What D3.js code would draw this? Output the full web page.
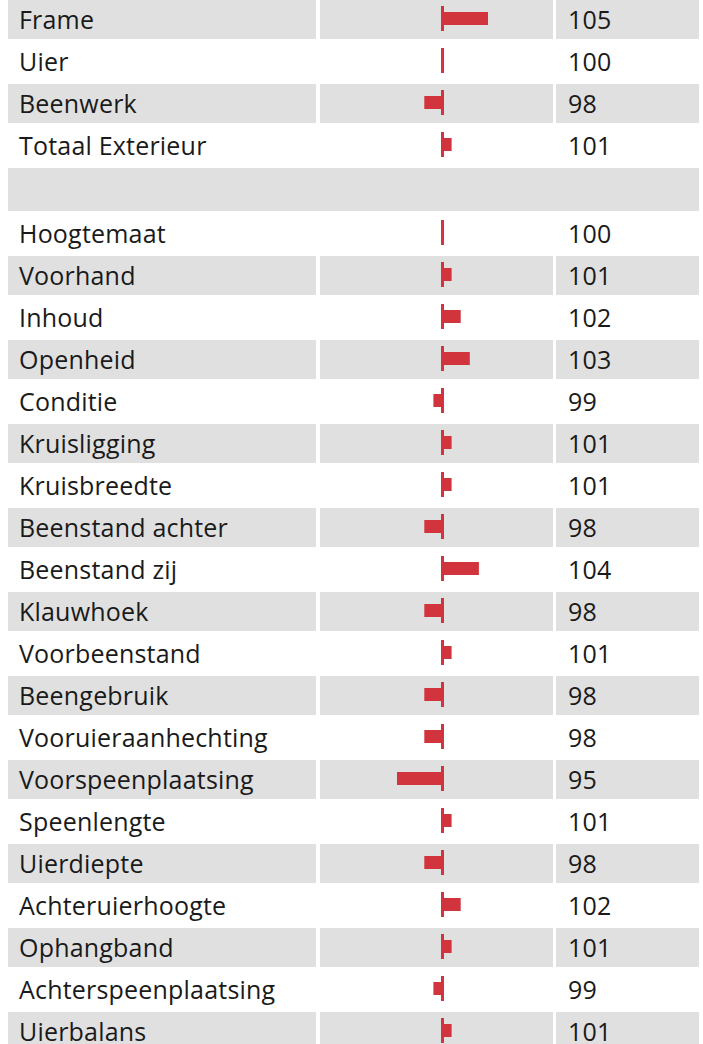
<!DOCTYPE html>
<html>
<head>
<meta charset="utf-8">
<script src="https://cdn.jsdelivr.net/npm/d3@7"></script>
<style>
  html, body { margin: 0; padding: 0; background: #ffffff; }
  svg { display: block; }
  text { font-family: "Open Sans", "Noto Sans", sans-serif; fill: #1a1a1a; }
</style>
</head>
<body>
<svg id="chart" width="703" height="1044"></svg>
<script>
// Exterior traits and their breeding values (100 = average).
// An empty label marks the blank separator row between summary and detail traits.
const traits = [
  "Frame", "Uier", "Beenwerk", "Totaal Exterieur", "",
  "Hoogtemaat", "Voorhand", "Inhoud", "Openheid", "Conditie",
  "Kruisligging", "Kruisbreedte", "Beenstand achter", "Beenstand zij", "Klauwhoek",
  "Voorbeenstand", "Beengebruik", "Vooruieraanhechting", "Voorspeenplaatsing", "Speenlengte",
  "Uierdiepte", "Achteruierhoogte", "Ophangband", "Achterspeenplaatsing", "Uierbalans"
];
const values = [
  105, 100, 98, 101, null,
  100, 101, 102, 103, 99,
  101, 101, 98, 104, 98,
  101, 98, 98, 95, 101,
  98, 102, 101, 99, 101
];
const baseline = 100;

const svg = d3.select("#chart");

// Column layout
const labelCol = { x0: 8, x1: 316 };
const barCol = { x0: 320, x1: 553 };
const valueCol = { x0: 556, x1: 699 };

// Row geometry: regular rows 39px tall on a 42px pitch; separator row is taller
const rowH = 39, rowGap = 3, sepH = 43;
const rows = [];
let yCursor = 0;
traits.forEach((t, i) => {
  const h = t === "" ? sepH : rowH;
  rows.push({ label: t, value: values[i], y: yCursor, h: h, idx: i });
  yCursor += h + rowGap;
});

// Horizontal scale for the deviation bars, centred on the average
const x = d3.scaleLinear().domain([85, 115]).range([306, 579]);

const grey = "#e0e0e0";
const red = "#d1343c";

const g = svg.append("g");

const row = g.selectAll("g.row").data(rows).join("g")
  .attr("class", "row")
  .attr("transform", d => `translate(0,${d.y})`);

// Striped backgrounds on every other row
row.filter(d => d.idx % 2 === 0 && d.label !== "").each(function(d) {
  const s = d3.select(this);
  [labelCol, barCol, valueCol].forEach(c => {
    s.append("rect")
      .attr("x", c.x0).attr("y", 0)
      .attr("width", c.x1 - c.x0).attr("height", d.h)
      .attr("fill", grey);
  });
});
row.filter(d => d.label === "").append("rect")
  .attr("x", labelCol.x0).attr("y", 0)
  .attr("width", valueCol.x1 - labelCol.x0).attr("height", d => d.h)
  .attr("fill", grey);

const dataRows = row.filter(d => d.label !== "");

// Deviation bars
dataRows.append("rect")
  .attr("x", d => Math.min(x(d.value), x(baseline)))
  .attr("y", 12)
  .attr("width", d => Math.abs(x(d.value) - x(baseline)))
  .attr("height", 13)
  .attr("fill", red);

// Average marker
dataRows.append("rect")
  .attr("x", x(baseline) - 1.5)
  .attr("y", 6)
  .attr("width", 3)
  .attr("height", 25)
  .attr("fill", red);

// Trait names
dataRows.append("text")
  .attr("x", 19)
  .attr("y", 29)
  .attr("font-size", 25)
  .attr("letter-spacing", 0.2)
  .text(d => d.label);

// Values
dataRows.append("text")
  .attr("x", 568)
  .attr("y", 29)
  .attr("font-size", 25)
  .attr("letter-spacing", 0.2)
  .text(d => d.value);
</script>
</body>
</html>
